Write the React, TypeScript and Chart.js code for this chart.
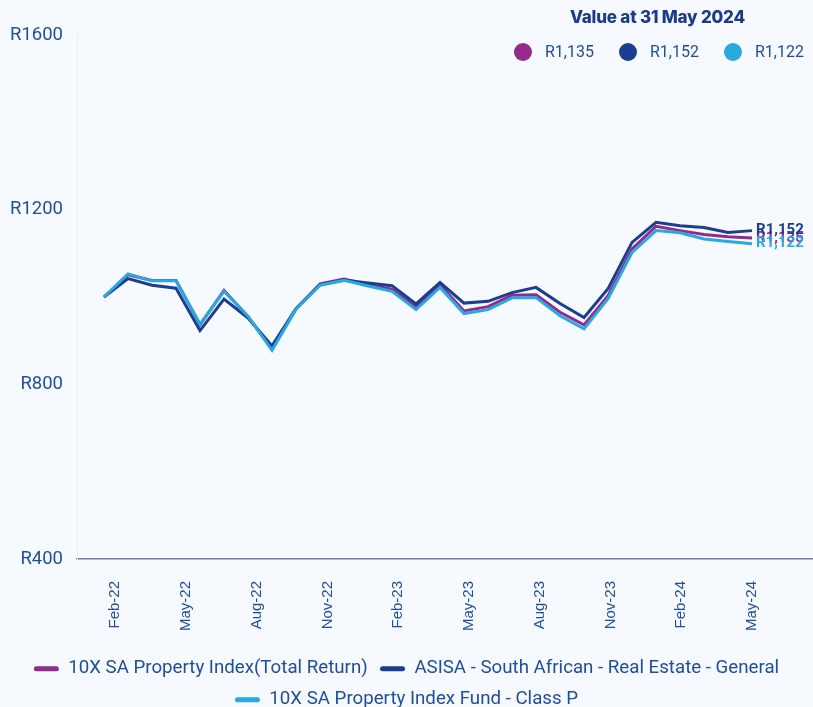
import React, { useEffect, useRef } from "react";
import { Chart, registerables } from "chart.js";

Chart.register(...registerables);

// ---- data ----
const months = [
  "Feb-22", "Mar-22", "Apr-22", "May-22", "Jun-22", "Jul-22", "Aug-22", "Sep-22", "Oct-22", "Nov-22", "Dec-22",
  "Jan-23", "Feb-23", "Mar-23", "Apr-23", "May-23", "Jun-23", "Jul-23", "Aug-23", "Sep-23", "Oct-23", "Nov-23", "Dec-23",
  "Jan-24", "Feb-24", "Mar-24", "Apr-24", "May-24",
];

const indexTotalReturn = [
  1000, 1051, 1038, 1038, 936, 1015, 955, 880, 973, 1030, 1041, 1028, 1018, 978,
  1028, 968, 978, 1004, 1005, 965, 936, 1003, 1110, 1162, 1152, 1143, 1138, 1135,
];
const asisaRealEstate = [
  1000, 1042, 1027, 1020, 923, 995, 952, 888, 973, 1028, 1039, 1032, 1026, 984,
  1033, 986, 990, 1010, 1022, 985, 953, 1019, 1125, 1171, 1163, 1159, 1148, 1152,
];
const fundClassP = [
  1000, 1053, 1037, 1037, 938, 1013, 956, 878, 972, 1027, 1038, 1025, 1013, 971,
  1022, 962, 971, 998, 999, 957, 927, 996, 1102, 1152, 1147, 1133, 1127, 1122,
];

const seriesNames = [
  "10X SA Property Index(Total Return)",
  "ASISA - South African - Real Estate - General",
  "10X SA Property Index Fund - Class P",
];
const seriesColors = ["#932a8d", "#1b3f90", "#2aa9e1"];
const seriesValues = [indexTotalReturn, asisaRealEstate, fundClassP];
const drawOrder = [2, 1, 0]; // higher = drawn earlier (behind)

const yTicks = [400, 800, 1200, 1600];
const labelEvery = 3;
const valueDateLabel = "Value at 31 May 2024";

const TEXT_BLUE = "#1f4e9d";
const BG = "#f6f9fe";

const fmtRand = (v: number) => "R" + v.toLocaleString("en-US");

const endLabelPlugin = {
  id: "endLabels",
  afterDatasetsDraw(chart: any) {
    const ctx = chart.ctx;
    ctx.save();
    ctx.font = "bold 15px Roboto";
    ctx.textBaseline = "middle";
    ctx.textAlign = "left";
    [0, 1, 2].forEach((di) => {
      const meta = chart.getDatasetMeta(di);
      const pts = meta.data;
      const last = pts[pts.length - 1];
      const vals = seriesValues[di];
      ctx.fillStyle = seriesColors[di];
      ctx.fillText(fmtRand(vals[vals.length - 1]), last.x + 4, last.y);
    });
    ctx.restore();
  },
};

function ChartCanvas() {
  const ref = useRef<HTMLCanvasElement | null>(null);
  useEffect(() => {
    if (!ref.current) return;
    const n = months.length - 1;
    const chart = new Chart(ref.current, {
      type: "line",
      data: {
        datasets: seriesNames.map((name, di) => ({
          label: name,
          data: seriesValues[di].map((v, i) => ({ x: i, y: v })),
          borderColor: seriesColors[di],
          backgroundColor: seriesColors[di],
          borderWidth: 3,
          pointRadius: 0,
          tension: 0,
          order: drawOrder[di],
        })),
      },
      options: {
        animation: false,
        responsive: false,
        maintainAspectRatio: false,
        layout: { padding: { top: 35, left: 0, right: 0, bottom: 0 } },
        plugins: {
          tooltip: { enabled: false },
          legend: {
            position: "bottom",
            labels: {
              font: { family: "Roboto", size: 18.7, lineHeight: 1.2 },
              color: TEXT_BLUE,
              boxWidth: 25,
              boxHeight: 5,
              padding: 12.3,
              useBorderRadius: true,
              borderRadius: 2.5,
              generateLabels: (chart: any) =>
                chart.data.datasets.map((ds: any, i: number) => ({
                  text: ds.label,
                  fillStyle: seriesColors[i],
                  strokeStyle: seriesColors[i],
                  lineWidth: 0,
                  fontColor: TEXT_BLUE,
                  hidden: false,
                  datasetIndex: i,
                  borderRadius: 2.5,
                })),
            },
          },
        },
        scales: {
          x: {
            type: "linear",
            min: -1.125,
            max: 29.54,
            afterBuildTicks: (s: any) => {
              // quarterly labels, with the slight drift seen in the source axis
              s.ticks = months
                .map((_, i) => i)
                .filter((i) => i % labelEvery === 0)
                .map((i) => ({ value: i + 0.46 * (1 - i / n) }));
            },
            afterFit: (s: any) => {
              s.height = 88;
            },
            ticks: {
              autoSkip: false,
              minRotation: 90,
              maxRotation: 90,
              padding: 22,
              color: TEXT_BLUE,
              font: { family: "Liberation Sans", size: 15 },
              callback: (v: any) => months[Math.floor(Number(v) + 0.001)] ?? "",
            },
            grid: { display: false, drawTicks: false },
            border: { display: true, color: "#6a7eb6", width: 1.5 },
          },
          y: {
            min: yTicks[0],
            max: yTicks[yTicks.length - 1],
            afterBuildTicks: (s: any) => {
              s.ticks = yTicks.map((v) => ({ value: v }));
            },
            afterFit: (s: any) => {
              s.width = 77;
            },
            ticks: {
              padding: 14,
              color: TEXT_BLUE,
              font: { family: "Roboto", size: 18.5 },
              callback: (v: any) => "R" + v,
            },
            grid: { display: false, drawTicks: false },
            border: { display: true, color: "#e9eef7", width: 1 },
          },
        },
      },
      plugins: [endLabelPlugin],
    } as any);
    return () => chart.destroy();
  }, []);
  return <canvas ref={ref} width={813} height={719} style={{ display: "block" }} />;
}

export default function App() {
  useEffect(() => {
    document.body.style.margin = "0";
  }, []);
  return (
    <div
      style={{
        position: "fixed",
        left: 0,
        top: 0,
        width: 813,
        height: 707,
        background: BG,
        overflow: "hidden",
      }}
    >
      <ChartCanvas />
      <div
        style={{
          position: "absolute",
          left: 540,
          top: 7,
          width: 235,
          textAlign: "center",
          fontFamily: "Inter, sans-serif",
          fontWeight: 800,
          fontSize: 17,
          letterSpacing: -0.2,
          color: "#1b3a8c",
        }}
      >
        {valueDateLabel}
      </div>
      <div
        style={{
          position: "absolute",
          left: 514,
          top: 42,
          display: "flex",
          alignItems: "center",
          fontFamily: "Roboto, sans-serif",
          fontSize: 16,
          color: TEXT_BLUE,
        }}
      >
        {seriesValues.map((vals, i) => (
          <div key={i} style={{ display: "flex", alignItems: "center", width: 105 }}>
            <span
              style={{
                width: 18,
                height: 18,
                borderRadius: 9,
                background: seriesColors[i],
                display: "inline-block",
                marginRight: 13,
              }}
            />
            <span>{fmtRand(vals[vals.length - 1])}</span>
          </div>
        ))}
      </div>
    </div>
  );
}
